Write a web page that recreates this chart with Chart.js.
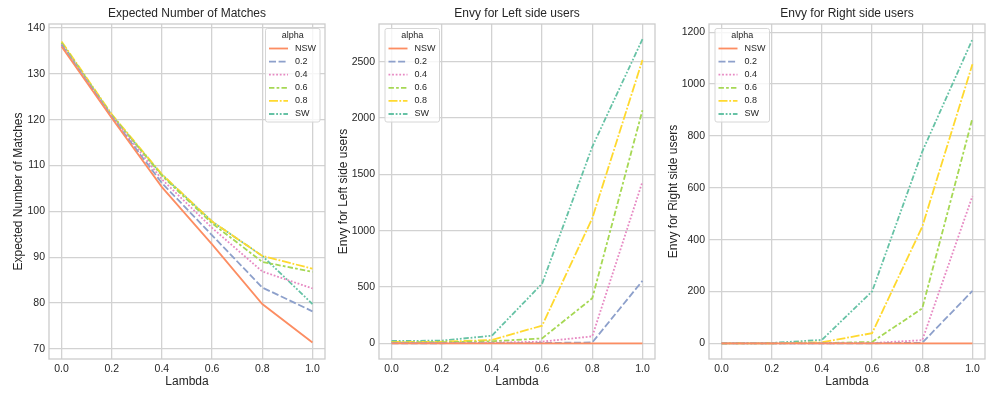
<!DOCTYPE html>
<html>
<head>
<meta charset="utf-8">
<script src="https://cdn.jsdelivr.net/npm/chart.js@4.4.0/dist/chart.umd.min.js"></script>
<style>
  body { margin: 0; background: #fff; }
  #contenedor { position: relative; width: 996px; height: 399px; }
  .panel { position: absolute; top: 0; height: 399px; }
</style>
</head>
<body>
<div id="contenedor">
  <div class="panel" style="left:0;width:330px"><canvas id="grafica-1"></canvas></div>
  <div class="panel" style="left:330px;width:330px"><canvas id="grafica-2"></canvas></div>
  <div class="panel" style="left:660px;width:336px"><canvas id="grafica-3"></canvas></div>
</div>
<script>
// datos
const lambdas = [0.0, 0.2, 0.4, 0.6, 0.8, 1.0];
const etiquetasAlpha = ["NSW", "0.2", "0.4", "0.6", "0.8", "SW"];

// Expected Number of Matches
const matchesNSW = [136.0, 120.4, 105.3, 92.8, 79.8, 71.4];
const matches02 = [136.3, 120.6, 106.2, 94.8, 83.4, 78.2];
const matches04 = [136.5, 120.8, 107.0, 96.4, 86.9, 83.2];
const matches06 = [136.8, 121.0, 107.8, 97.4, 89.0, 86.8];
const matches08 = [137.1, 121.2, 108.1, 97.8, 90.3, 87.5];
const matchesSW = [136.7, 121.0, 108.0, 97.8, 90.3, 79.8];
const ticksMatches = [70, 80, 90, 100, 110, 120, 130, 140];

// Envy for Left side users
const envyLeftNSW = [0, 0, 0, 0, 0, 0];
const envyLeft02 = [1, 1, 2, 3, 8, 555];
const envyLeft04 = [3, 3, 6, 15, 62, 1435];
const envyLeft06 = [9, 10, 18, 44, 400, 2070];
const envyLeft08 = [12, 14, 30, 157, 1110, 2515];
const envyLeftSW = [21, 24, 68, 530, 1745, 2700];
const ticksLeft = [0, 500, 1000, 1500, 2000, 2500];

// Envy for Right side users
const envyRightNSW = [0, 0, 0, 0, 0, 0];
const envyRight02 = [0, 0, 0, 0, 2, 202];
const envyRight04 = [0, 0, 0, 1, 12, 568];
const envyRight06 = [0, 0, 1, 5, 135, 868];
const envyRight08 = [0, 0, 4, 39, 450, 1077];
const envyRightSW = [0, 1.5, 13, 200, 740, 1173];
const ticksRight = [0, 200, 400, 600, 800, 1000, 1200];

// estilos (paleta Set2 de seaborn)
const colores = ["#fc8d62", "#8da0cb", "#e78ac3", "#a6d854", "#ffd92f", "#66c2a5"];
const trazos = [[], [7, 2.6], [1.8, 1.8], [5.4, 2.2, 2.7, 2.2], [9, 1.8, 1.8, 1.8], [5.4, 1.8, 1.8, 1.8, 1.8, 1.8]];
const fuente = "'Liberation Sans', Arial, sans-serif";
const colorTexto = "#262626";
const colorRejilla = "#d2d2d2";

function crearDatasets(series) {
  return series.map((valores, i) => ({
    label: etiquetasAlpha[i],
    data: lambdas.map((l, j) => ({ x: l, y: valores[j] })),
    borderColor: colores[i],
    backgroundColor: colores[i],
    borderDash: trazos[i],
    borderWidth: 1.8,
    pointRadius: 0,
    tension: 0,
    fill: false,
  }));
}

// plugin que dibuja marco, titulo y leyenda estilo matplotlib
const pluginMarco = {
  id: "marco",
  afterDraw(chart, args, opts) {
    const ctx = chart.ctx;
    const area = chart.chartArea;
    ctx.save();
    ctx.strokeStyle = "#cccccc";
    ctx.lineWidth = 1.3;
    ctx.strokeRect(area.left, area.top, area.right - area.left, area.bottom - area.top);

    // titulo
    ctx.fillStyle = colorTexto;
    ctx.font = "12px " + fuente;
    ctx.textAlign = "center";
    ctx.textBaseline = "middle";
    ctx.fillText(opts.titulo, (area.left + area.right) / 2, 14);

    // leyenda
    const x0 = opts.leyendaX;
    const y0 = 28.5;
    const ancho = 54.5;
    const alto = 93.5;
    ctx.fillStyle = "rgba(255,255,255,0.8)";
    ctx.strokeStyle = "#d6d6d6";
    ctx.lineWidth = 1;
    ctx.beginPath();
    ctx.roundRect(x0, y0, ancho, alto, 2);
    ctx.fill();
    ctx.stroke();
    ctx.fillStyle = colorTexto;
    ctx.font = "9px " + fuente;
    ctx.fillText("alpha", x0 + ancho / 2, 36);
    ctx.textAlign = "left";
    chart.data.datasets.forEach((ds, i) => {
      const y = 48.5 + i * 13.1;
      ctx.strokeStyle = ds.borderColor;
      ctx.lineWidth = 1.8;
      ctx.setLineDash(ds.borderDash);
      ctx.beginPath();
      ctx.moveTo(x0 + 3.5, y);
      ctx.lineTo(x0 + 22.5, y);
      ctx.stroke();
      ctx.setLineDash([]);
      ctx.fillStyle = colorTexto;
      ctx.fillText(ds.label, x0 + 29.5, y);
    });
    ctx.restore();
  },
};

function crearGrafica(id, series, titulo, tituloY, rangoY, ticksY, leyendaX, paddingDerecho, paddingTituloY) {
  const canvas = document.getElementById(id);
  const config = {
    type: "line",
    data: { datasets: crearDatasets(series) },
    options: {
      responsive: true,
      maintainAspectRatio: false,
      animation: false,
      layout: { padding: { left: 0, right: paddingDerecho, top: 24, bottom: 0 } },
      plugins: {
        legend: { display: false },
        title: { display: false },
        tooltip: { enabled: false },
        marco: { titulo: titulo, leyendaX: leyendaX },
      },
      scales: {
        x: {
          type: "linear",
          min: -0.05,
          max: 1.05,
          afterFit: (escala) => { escala.height = 40; },
          afterBuildTicks: (escala) => { escala.ticks = lambdas.map((v) => ({ value: v })); },
          grid: { color: colorRejilla, lineWidth: 1.3, drawTicks: false },
          border: { display: false },
          ticks: {
            padding: 4,
            color: colorTexto,
            font: { family: fuente, size: 10.5 },
            maxRotation: 0,
            callback: (v) => Number(v).toFixed(1),
          },
          title: {
            display: true,
            text: "Lambda",
            color: colorTexto,
            font: { family: fuente, size: 12 },
            padding: { top: 0, bottom: 10 },
          },
        },
        y: {
          type: "linear",
          min: rangoY[0],
          max: rangoY[1],
          afterFit: (escala) => { escala.width = 49; },
          afterBuildTicks: (escala) => { escala.ticks = ticksY.map((v) => ({ value: v })); },
          grid: { color: colorRejilla, lineWidth: 1.3, drawTicks: false },
          border: { display: false },
          ticks: {
            padding: 4,
            color: colorTexto,
            font: { family: fuente, size: 10.5 },
            callback: (v) => v,
          },
          title: {
            display: true,
            text: tituloY,
            color: colorTexto,
            font: { family: fuente, size: 12 },
            padding: { top: paddingTituloY, bottom: 0 },
          },
        },
      },
    },
    plugins: [pluginMarco],
  };
  new Chart(canvas, config);
}

crearGrafica("grafica-1",
  [matchesNSW, matches02, matches04, matches06, matches08, matchesSW],
  "Expected Number of Matches", "Expected Number of Matches",
  [67.8, 140.9], ticksMatches, 265.5, 5, 11);

crearGrafica("grafica-2",
  [envyLeftNSW, envyLeft02, envyLeft04, envyLeft06, envyLeft08, envyLeftSW],
  "Envy for Left side users", "Envy for Left side users",
  [-139, 2835], ticksLeft, 55, 5, 6);

crearGrafica("grafica-3",
  [envyRightNSW, envyRight02, envyRight04, envyRight06, envyRight08, envyRightSW],
  "Envy for Right side users", "Envy for Right side users",
  [-60.6, 1232], ticksRight, 55, 11, 6);
</script>
</body>
</html>
